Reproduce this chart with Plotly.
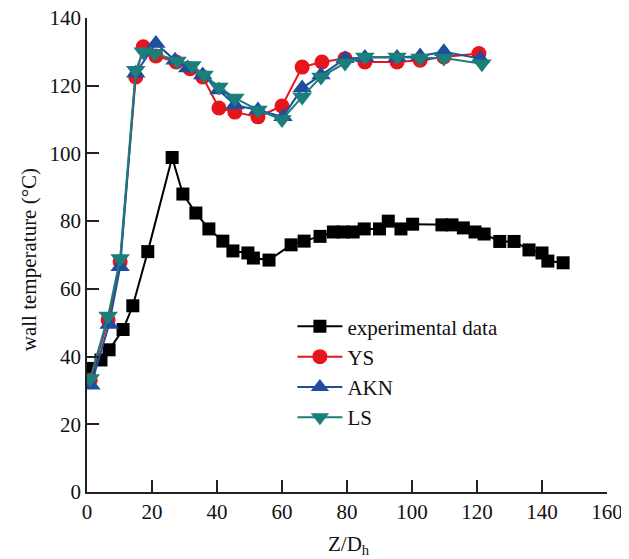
import plotly.graph_objects as go

# Experimental data
x_exp = [0.6, 4.3, 6.8, 11.1, 14.1, 18.7, 26.2, 29.5, 33.5, 37.5, 41.8, 44.9, 49.5, 51.2, 56.0,
         62.8, 66.8, 71.7, 75.8, 78.8, 81.9, 85.3, 90.0, 92.7, 96.6, 100.2, 109.2, 112.3, 115.8,
         119.4, 122.2, 127.0, 131.4, 136.0, 140.0, 141.8, 146.5]
y_exp = [36.5, 39, 42, 48, 55, 71, 98.8, 88, 82.4, 77.7, 74.1, 71.2, 70.6, 69.1, 68.5,
         73, 74.1, 75.5, 76.8, 76.8, 76.8, 77.7, 77.7, 80, 77.7, 79.1, 78.9, 78.9, 78,
         76.8, 76.2, 74, 74, 71.5, 70.6, 68.2, 67.7]

# YS model
x_ys = [1, 6.5, 10.2, 15, 17.3, 21.2, 27.4, 31.7, 35.6, 40.6, 45.5, 52.6, 60, 66.2, 72.3,
        79.4, 85.5, 95.4, 102.5, 109.8, 120.6]
y_ys = [33, 50.8, 68, 122.6, 131.5, 128.8, 127, 125, 122.6, 113.4, 112.2, 110.8, 114, 125.5, 127,
        128, 127, 127, 127.5, 128.5, 129.5]

# AKN model
x_akn = [1.2, 6.8, 10.2, 15, 21.2, 27.1, 31, 35.6, 40.6, 45.5, 52.6, 60.3, 66.2, 72,
         79.4, 85.5, 95.4, 102.5, 109.8, 121]
y_akn = [31.5, 49.5, 66.5, 123.7, 132.5, 127.5, 125.2, 123.2, 118.7, 114.3, 112.8, 110.8, 119.3, 123.2,
         128, 128.3, 128.3, 128.8, 130, 128]

# LS model
x_ls = [1, 6.5, 10.2, 15, 17.3, 20.9, 27.7, 32.3, 36, 40.6, 45.5, 52.6, 60, 66.2, 72,
        79.4, 85.5, 95.4, 102.5, 109.8, 121.5]
y_ls = [33.5, 52, 69, 124.6, 130, 129.6, 127.3, 126, 123.2, 119.6, 116.4, 112.8, 110, 116.7, 122.6,
        126.7, 128.5, 128.5, 128.2, 128.2, 126.5]

x_ticks = [0, 20, 40, 60, 80, 100, 120, 140, 160]
y_ticks = [0, 20, 40, 60, 80, 100, 120, 140]

FONT = "Liberation Serif, Times New Roman, serif"

fig = go.Figure()
fig.add_trace(go.Scatter(x=x_exp, y=y_exp, mode="lines+markers", name="experimental data",
                         line=dict(color="#000000", width=2),
                         marker=dict(symbol="square", size=13, color="#000000")))
fig.add_trace(go.Scatter(x=x_ys, y=y_ys, mode="lines+markers", name="YS",
                         line=dict(color="#e8141c", width=2),
                         marker=dict(symbol="circle", size=15, color="#e8141c")))
fig.add_trace(go.Scatter(x=x_akn, y=y_akn, mode="lines+markers", name="AKN",
                         line=dict(color="#1f4e9e", width=2),
                         marker=dict(symbol="triangle-up", size=17, color="#1f4e9e")))
fig.add_trace(go.Scatter(x=x_ls, y=y_ls, mode="lines+markers", name="LS",
                         line=dict(color="#1a7f7a", width=2),
                         marker=dict(symbol="triangle-down", size=17, color="#1a7f7a")))

fig.update_layout(
    width=621, height=551,
    margin=dict(l=79, r=22, t=10, b=67),
    paper_bgcolor="white", plot_bgcolor="white",
    font=dict(family=FONT, size=21, color="#111111"),
    showlegend=True,
    legend=dict(x=0.395, y=0.392, xanchor="left", yanchor="top",
                bgcolor="rgba(0,0,0,0)", font=dict(family=FONT, size=21),
                itemwidth=45, tracegroupgap=0),
    xaxis=dict(range=[0, 160], tickvals=x_ticks, ticks="inside", ticklen=12, tickwidth=1.5,
               tickcolor="#222", showline=True, linecolor="#222", linewidth=1.5,
               showgrid=False, zeroline=False, tickfont=dict(size=21), automargin=False,
               ticklabeloverflow="allow"),
    yaxis=dict(range=[0, 140], tickvals=y_ticks, ticks="inside", ticklen=12, tickwidth=1.5,
               tickcolor="#222", showline=True, linecolor="#222", linewidth=1.5,
               showgrid=False, zeroline=False, tickfont=dict(size=21), automargin=False,
               ticklabeloverflow="allow"),
    annotations=[
        dict(text="wall temperature (°C)", xref="paper", yref="paper", x=-0.1115, y=0.489,
             textangle=-90, showarrow=False, xanchor="center", yanchor="middle",
             font=dict(family=FONT, size=21)),
        dict(text="Z/D<sub>h</sub>", xref="paper", yref="paper", x=0.504, y=-0.112,
             showarrow=False, xanchor="center", yanchor="middle",
             font=dict(family=FONT, size=21)),
    ],
)

fig.write_html("out.html")
